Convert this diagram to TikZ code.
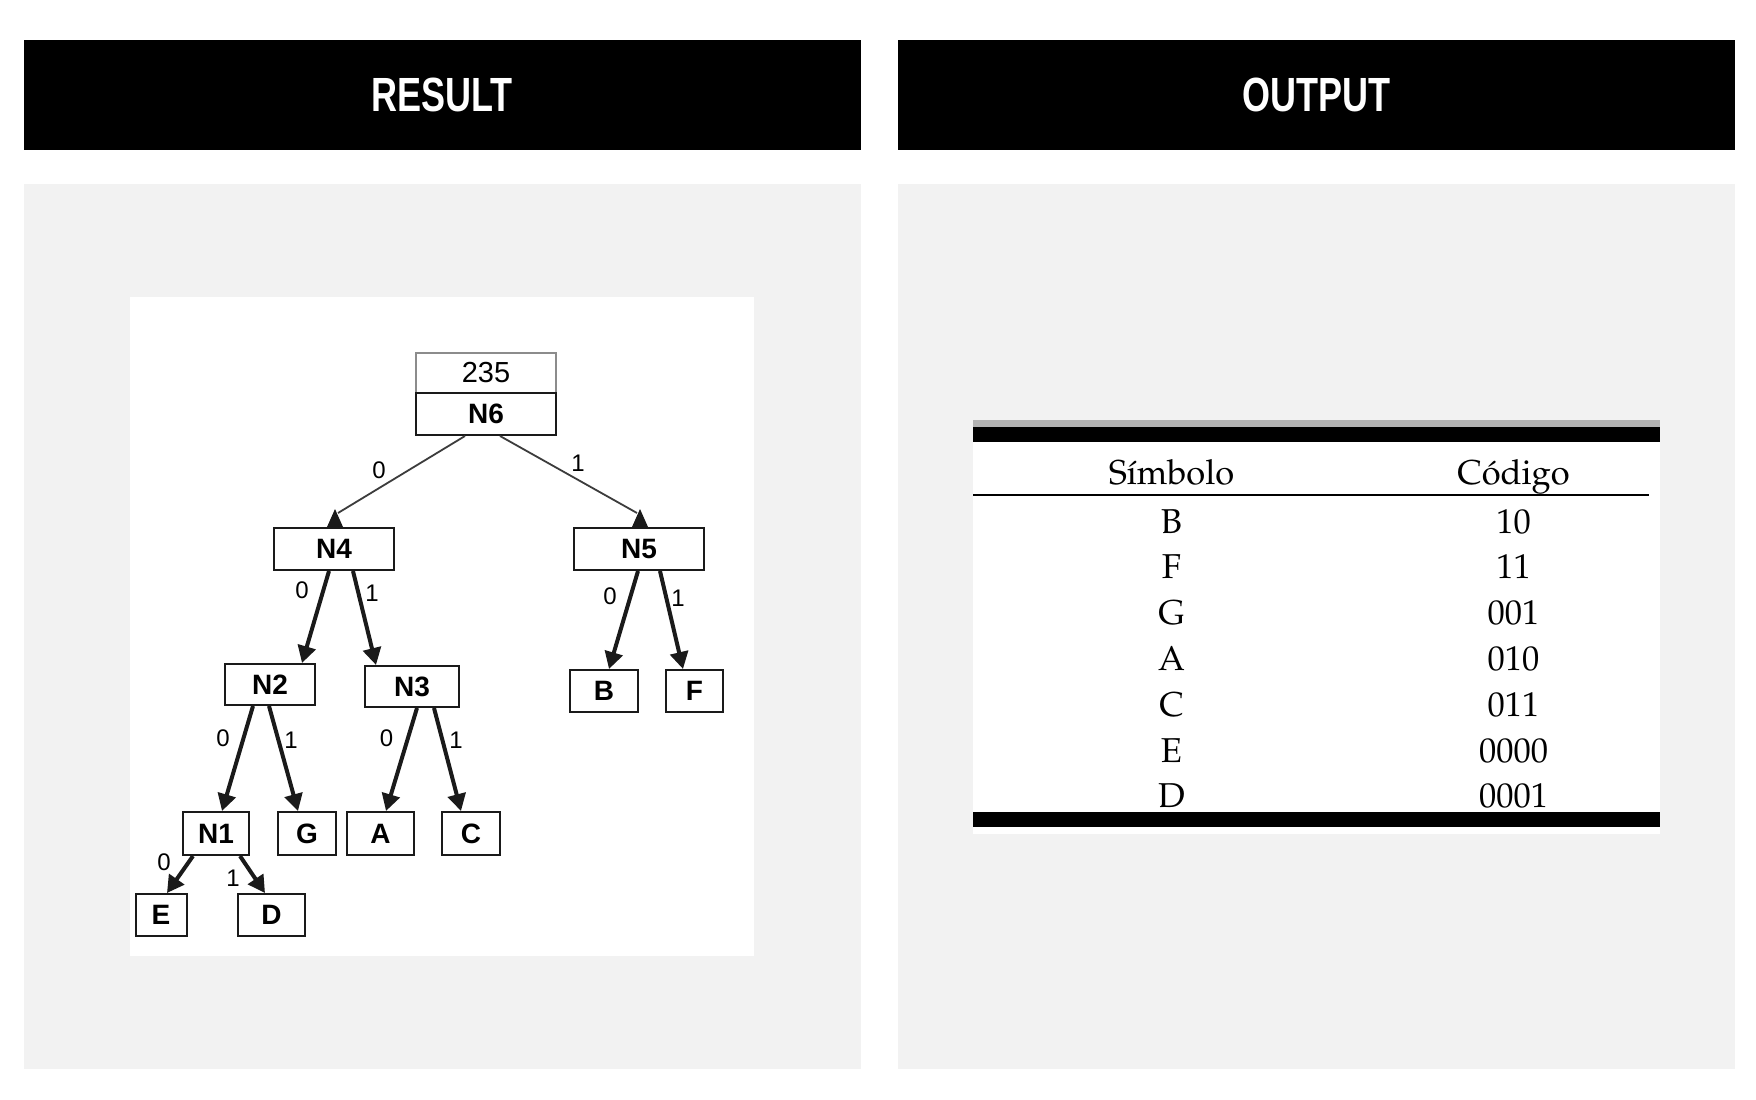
\documentclass[tikz,border=0pt]{standalone}
\usepackage[T1]{fontenc}
\usepackage{fontspec}
\usetikzlibrary{arrows.meta}
\newfontfamily\arialfont{Liberation Sans}
\newcommand\palfont{\fontencoding{T1}\fontfamily{ppl}\selectfont}
\definecolor{panelgray}{HTML}{F2F2F2}
\definecolor{boxline}{HTML}{1A1A1A}
\tikzset{
  hdrbox/.style={fill=black,draw=none},
  hdrtext/.style={text=white,font=\arialfont\bfseries\fontsize{48}{52}\selectfont},
  treebox/.style={draw=boxline,line width=2pt,fill=white,inner sep=0pt,
    font=\arialfont\bfseries\fontsize{28}{32}\selectfont},
  valbox/.style={draw=black!45,line width=1.5pt,fill=white,inner sep=0pt,
    font=\arialfont\fontsize{29}{32}\selectfont},
  elabel/.style={inner sep=0pt,font=\arialfont\fontsize{24}{28}\selectfont},
  thinline/.style={draw=boxline!85,line width=1.8pt},
  uptip/.style={fill=boxline},
  thickarr/.style={draw=boxline,line width=4pt,-{Triangle[length=17pt,width=18pt]}},
  tabtext/.style={inner sep=0pt,anchor=base,font=\palfont\fontsize{34.5}{38}\selectfont},
}
\begin{document}
\begin{tikzpicture}[x=1pt,y=-1pt]
\useasboundingbox (0,0) rectangle (1756,1100);
\fill[white] (0,0) rectangle (1756,1100);
% headers
\fill[hdrbox] (23.5,40) rectangle (861,150);
\fill[hdrbox] (898,40) rectangle (1735,150);
\node[hdrtext] (hres) at (442,95) {\scalebox{0.75}[1]{RESULT}};
\node[hdrtext] (hout) at (1316.5,95) {\scalebox{0.75}[1]{OUTPUT}};
% panels
\fill[panelgray] (23.5,184) rectangle (861,1069);
\fill[panelgray] (898,184) rectangle (1735,1069);
% tree area
\fill[white] (130,297) rectangle (754,956);
\node[valbox,minimum width=140pt,minimum height=40pt] (v235) at (486,373) {235};
\node[treebox,minimum width=140pt,minimum height=42pt] (N6) at (486,414) {N6};
\node[treebox,minimum width=120pt,minimum height=42pt] (N4) at (334,549) {N4};
\node[treebox,minimum width=130pt,minimum height=42pt] (N5) at (639,549) {N5};
\node[treebox,minimum width=90pt,minimum height=41pt] (N2) at (270,684.5) {N2};
\node[treebox,minimum width=94pt,minimum height=41pt] (N3) at (412,686.5) {N3};
\node[treebox,minimum width=68pt,minimum height=42pt] (B) at (604,691) {B};
\node[treebox,minimum width=57pt,minimum height=42pt] (F) at (694.5,691) {F};
\node[treebox,minimum width=66pt,minimum height=43pt] (N1) at (216,833.5) {N1};
\node[treebox,minimum width=58pt,minimum height=43pt] (G) at (307,833.5) {G};
\node[treebox,minimum width=67pt,minimum height=43pt] (A) at (380.5,833.5) {A};
\node[treebox,minimum width=58pt,minimum height=43pt] (C) at (471,833.5) {C};
\node[treebox,minimum width=51pt,minimum height=42pt] (E) at (161,915) {E};
\node[treebox,minimum width=67pt,minimum height=42pt] (D) at (271.5,915) {D};
% connectors from the root (thin lines with upright triangle tips)
\coordinate (t4) at ([xshift=1pt]N4.north);
\coordinate (t5) at ([xshift=1pt]N5.north);
\draw[thinline] ([xshift=-21pt]N6.south) -- ([xshift=3pt,yshift=14pt]t4);
\draw[thinline] ([xshift=14pt]N6.south) -- ([xshift=-3pt,yshift=14pt]t5);
\fill[uptip] ([xshift=-8pt]t4) -- ([xshift=8pt]t4) -- ([yshift=18pt]t4) -- cycle;
\fill[uptip] ([xshift=-8pt]t5) -- ([xshift=8pt]t5) -- ([yshift=18pt]t5) -- cycle;
% lower connectors
\draw[thickarr] ([xshift=-5pt]N4.south) -- ([xshift=32pt]N2.north);
\draw[thickarr] ([xshift=19pt]N4.south) -- ([xshift=-36pt]N3.north);
\draw[thickarr] ([xshift=-1pt]N5.south) -- ([xshift=5pt]B.north);
\draw[thickarr] ([xshift=21pt]N5.south) -- ([xshift=-11.5pt]F.north);
\draw[thickarr] ([xshift=-17pt]N2.south) -- ([xshift=6pt]N1.north);
\draw[thickarr] ([xshift=-1pt]N2.south) -- ([xshift=-9pt]G.north);
\draw[thickarr] ([xshift=5pt]N3.south) -- ([xshift=5.5pt]A.north);
\draw[thickarr] ([xshift=22pt]N3.south) -- ([xshift=-10pt]C.north);
\draw[thickarr] ([xshift=-23pt]N1.south) -- ([xshift=6pt]E.north);
\draw[thickarr] ([xshift=24pt]N1.south) -- ([xshift=-6.5pt]D.north);
% edge labels
\node[elabel] (l64a) at (379,470) {0};
\node[elabel] (l65a) at (578,463) {1};
\node[elabel] (l42a) at (302,590) {0};
\node[elabel] (l43a) at (372,593) {1};
\node[elabel] (l5Ba) at (610,596) {0};
\node[elabel] (l5Fa) at (678,598) {1};
\node[elabel] (l21a) at (223,738) {0};
\node[elabel] (l2Ga) at (291,740) {1};
\node[elabel] (l3Aa) at (386.5,738) {0};
\node[elabel] (l3Ca) at (456,740) {1};
\node[elabel] (l1Ea) at (164,862) {0};
\node[elabel] (l1Da) at (233,878) {1};
% table
\fill[white] (973,420) rectangle (1660,834);
\fill[black!30] (973,420) rectangle (1660,427);
\fill[black] (973,427) rectangle (1660,442);
\draw[line width=2.5pt] (973,495) -- (1649,495);
\fill[black] (973,812) rectangle (1660,827);
\node[tabtext] (th1) at (1171.5,484) {S\'{\i}mbolo};
\node[tabtext] (th2) at (1513.5,484) {C\'odigo};
\node[tabtext] (s1) at (1171.5,533) {B};
\node[tabtext] (c1) at (1513.5,533) {10};
\node[tabtext] (s2) at (1171.5,578.8) {F};
\node[tabtext] (c2) at (1513.5,578.8) {11};
\node[tabtext] (s3) at (1171.5,624.6) {G};
\node[tabtext] (c3) at (1513.5,624.6) {001};
\node[tabtext] (s4) at (1171.5,670.4) {A};
\node[tabtext] (c4) at (1513.5,670.4) {010};
\node[tabtext] (s5) at (1171.5,716.2) {C};
\node[tabtext] (c5) at (1513.5,716.2) {011};
\node[tabtext] (s6) at (1171.5,762) {E};
\node[tabtext] (c6) at (1513.5,762) {0000};
\node[tabtext] (s7) at (1171.5,807.8) {D};
\node[tabtext] (c7) at (1513.5,807.8) {0001};
\end{tikzpicture}
\end{document}
